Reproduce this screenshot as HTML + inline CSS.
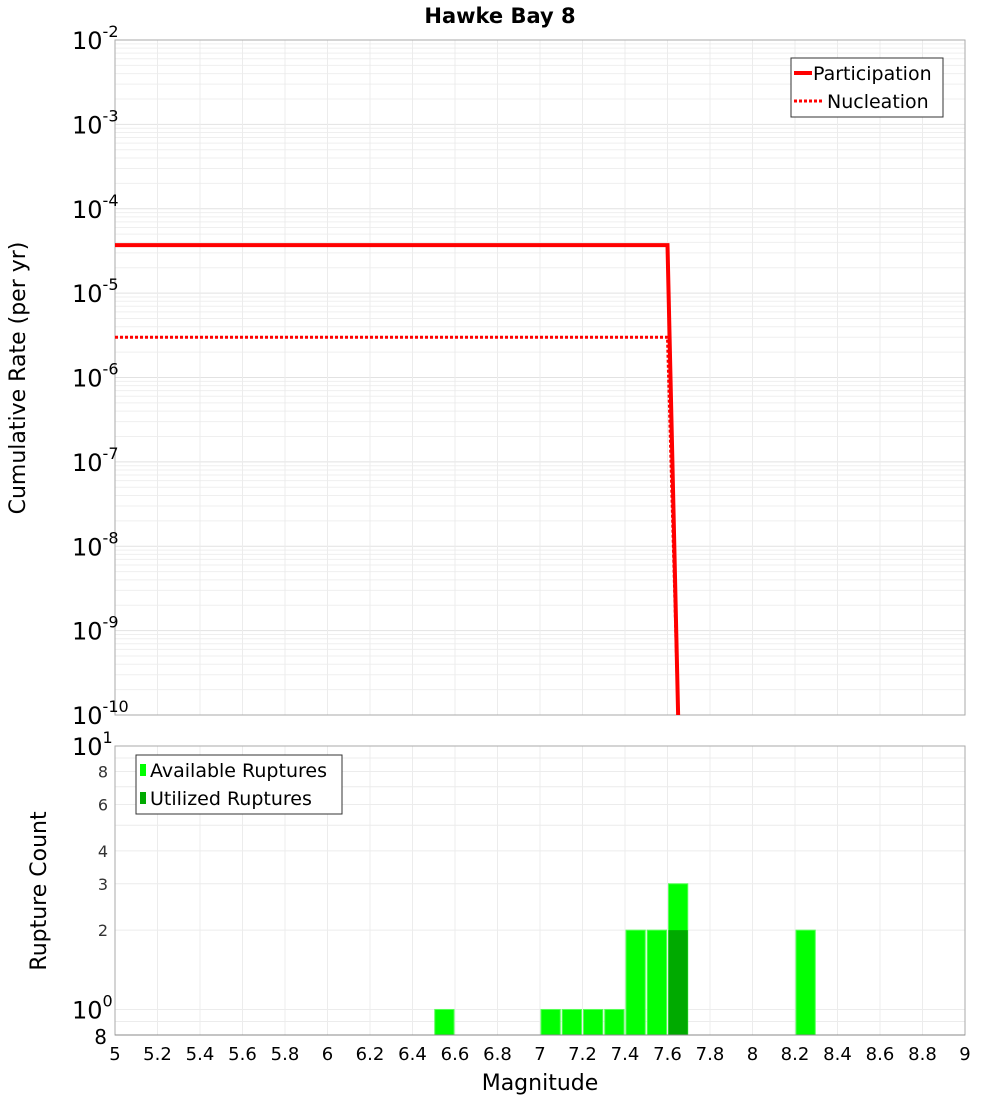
<!DOCTYPE html>
<html><head><meta charset="utf-8"><style>
body{margin:0;background:#fff;}
svg text{font-family:"DejaVu Sans","Liberation Sans",sans-serif;}
</style></head><body>
<svg id="c" width="1000" height="1100" xmlns="http://www.w3.org/2000/svg">
<rect width="1000" height="1100" fill="#fff"/>
<text x="500" y="23" text-anchor="middle" font-size="21" font-weight="bold">Hawke Bay 8</text>
<g id="topg"></g><g id="botg"></g>
<text transform="translate(25,378) rotate(-90)" text-anchor="middle" font-size="22">Cumulative Rate (per yr)</text>
<text transform="translate(46,891) rotate(-90)" text-anchor="middle" font-size="22">Rupture Count</text>
<text x="540" y="1090" text-anchor="middle" font-size="22">Magnitude</text>
</svg>
<script>
const partMags=[5,7.6,7.65];
const partRates=[3.7e-5,3.7e-5,1e-10];
const nuclMags=[5,7.6,7.65];
const nuclRates=[3.0e-6,3.0e-6,1e-10];
const binStarts=[6.5,7.0,7.1,7.2,7.3,7.4,7.5,7.6,8.2];
const availCounts=[1,1,1,1,1,2,2,3,2];
const utilStarts=[7.6];
const utilCounts=[2];
const xTicks=[5,5.2,5.4,5.6,5.8,6,6.2,6.4,6.6,6.8,7,7.2,7.4,7.6,7.8,8,8.2,8.4,8.6,8.8,9];
const topExps=[-2,-3,-4,-5,-6,-7,-8,-9,-10];
const botLabels=[[8,"8"],[6,"6"],[4,"4"],[3,"3"],[2,"2"]];

const NS="http://www.w3.org/2000/svg";
const X0=115,X1=965;
const xs=m=>X0+(m-5)/4*(X1-X0);
const TY0=40,TY1=715;
const ty=v=>TY0+(-2-Math.log10(v))/8*(TY1-TY0);
const BY0=746,BY1=1035,BL0=Math.log10(0.8),BL1=1;
const by=v=>BY1-(Math.log10(v)-BL0)/(BL1-BL0)*(BY1-BY0);
function el(p,t,a,txt){const e=document.createElementNS(NS,t);for(const k in a)e.setAttribute(k,a[k]);if(txt!==undefined)e.textContent=txt;p.appendChild(e);return e;}
const topG=document.getElementById('topg'),botG=document.getElementById('botg');

for(let d=-10;d<-2;d++){for(let k=1;k<10;k++){const y=ty(k*Math.pow(10,d));
let g=el(topG,'line',{x1:X0,x2:X1,y1:y,y2:y,stroke:k==1?'#e2e2e2':'#efefef','stroke-width':1});

}}
xTicks.forEach(m=>{let g=el(topG,'line',{x1:xs(m),x2:xs(m),y1:TY0,y2:TY1,stroke:'#ececec'});

});
let f=el(topG,'rect',{x:X0,y:TY0,width:X1-X0,height:TY1-TY0,fill:'none',stroke:'#aaa'});


topExps.forEach(e=>{const y=ty(Math.pow(10,e));
let t=el(topG,'text',{x:72,y:y+9,'font-size':24});


el(t,'tspan',{},'10');el(t,'tspan',{dy:-12,'font-size':16},String(e));});
function line(mags,rates,dash,name){const pts=mags.map((m,i)=>xs(m)+','+ty(rates[i])).join(' ');
let p=el(topG,'polyline',{points:pts,fill:'none',stroke:'#f00','stroke-width':dash?3:4});
if(dash)p.setAttribute('stroke-dasharray','3,2');

}
line(partMags,partRates,false,'participation-line');
line(nuclMags,nuclRates,true,'nucleation-line');
let lg=el(topG,'g',{});


el(lg,'rect',{x:791,y:58,width:152,height:59,fill:'#fff',stroke:'#333'});
el(lg,'line',{x1:794,x2:812,y1:73,y2:73,stroke:'#f00','stroke-width':4});
el(lg,'text',{x:813,y:80,'font-size':19},'Participation');
el(lg,'line',{x1:794,x2:822,y1:101,y2:101,stroke:'#f00','stroke-width':3,'stroke-dasharray':'3,2'});
el(lg,'text',{x:827,y:108,'font-size':19},'Nucleation');

[0.8,0.9,1,2,3,4,5,6,7,8,9].forEach(v=>{const y=by(v);
let g=el(botG,'line',{x1:X0,x2:X1,y1:y,y2:y,stroke:'#ececec'});

});
xTicks.forEach(m=>{let g=el(botG,'line',{x1:xs(m),x2:xs(m),y1:BY0,y2:BY1,stroke:'#ececec'});

});
const bw=(X1-X0)/40;
binStarts.forEach((m,i)=>{let r=el(botG,'rect',{x:xs(m)+1,y:by(availCounts[i]),width:bw-2,height:BY1-by(availCounts[i]),fill:'#00ff00',stroke:'#55ff55','stroke-width':1});

});
utilStarts.forEach((m,i)=>{let r=el(botG,'rect',{x:xs(m)+1,y:by(utilCounts[i]),width:bw-2,height:BY1-by(utilCounts[i]),fill:'#00aa00'});

});
let f2=el(botG,'rect',{x:X0,y:BY0,width:X1-X0,height:BY1-BY0,fill:'none',stroke:'#aaa'});


el(botG,'line',{x1:X0,x2:X1,y1:BY1,y2:BY1,stroke:'#888'});
botLabels.forEach(([v,s])=>{let t=el(botG,'text',{x:108,y:by(v)+6,'font-size':16,'text-anchor':'end',fill:'#333'},s);

});
[[10,"1"],[1,"0"]].forEach(([v,e])=>{const y=by(v);
let t=el(botG,'text',{x:72,y:y+9,'font-size':24});


el(t,'tspan',{},'10');el(t,'tspan',{dy:-12,'font-size':16},e);});
let t8=el(botG,'text',{x:107,y:1044,'font-size':20,'text-anchor':'end'},'8');


xTicks.forEach(m=>{let t=el(botG,'text',{x:xs(m),y:1060,'font-size':18,'text-anchor':'middle'},String(m));

});
let lb=el(botG,'g',{});


el(lb,'rect',{x:136,y:755,width:206,height:59,fill:'#fff',stroke:'#333'});
el(lb,'rect',{x:140,y:764,width:6,height:12,fill:'#00ff00'});
el(lb,'text',{x:150,y:777,'font-size':19},'Available Ruptures');
el(lb,'rect',{x:140,y:792,width:6,height:12,fill:'#00aa00'});
el(lb,'text',{x:150,y:805,'font-size':19},'Utilized Ruptures');
</script>
</body></html>
